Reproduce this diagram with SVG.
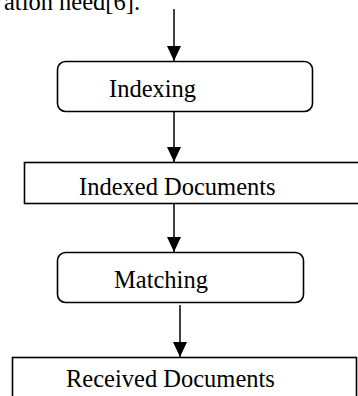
<svg xmlns="http://www.w3.org/2000/svg" width="358" height="396" viewBox="0 0 358 396">
<style>
.box{fill:#fff;stroke:#000;stroke-width:1.6}
.t{font-family:"Liberation Serif","Times New Roman",serif;font-size:24.5px;fill:#000}
.c{stroke:#000;stroke-width:1.5;fill:none}
</style>
<defs>
<marker id="ah" viewBox="0 0 15 14" refX="15" refY="7" markerWidth="15" markerHeight="14" markerUnits="userSpaceOnUse" orient="auto">
<path d="M0,0 L15,7 L0,14 Z" fill="#000"/>
</marker>
</defs>
<text class="t" x="4" y="10">ation need[6].</text>
<g id="connectors">
<line class="c" x1="174" y1="9" x2="174" y2="61" marker-end="url(#ah)"/>
<line class="c" x1="174" y1="111" x2="174" y2="162" marker-end="url(#ah)"/>
<line class="c" x1="174" y1="203" x2="174" y2="252" marker-end="url(#ah)"/>
<line class="c" x1="180" y1="305" x2="180" y2="357" marker-end="url(#ah)"/>
</g>
<g id="indexing">
<rect class="box" x="57.5" y="61.5" width="255" height="50" rx="8"/>
<text class="t" x="109" y="97">Indexing</text>
</g>
<g id="indexed-documents">
<rect class="box" x="24.5" y="162.5" width="345" height="41"/>
<text class="t" x="79" y="195">Indexed Documents</text>
</g>
<g id="matching">
<rect class="box" x="57.5" y="252.5" width="246" height="50" rx="8"/>
<text class="t" x="114" y="288">Matching</text>
</g>
<g id="received-documents">
<rect class="box" x="12.5" y="357.5" width="344" height="50"/>
<text class="t" x="66" y="387">Received Documents</text>
</g>
</svg>
